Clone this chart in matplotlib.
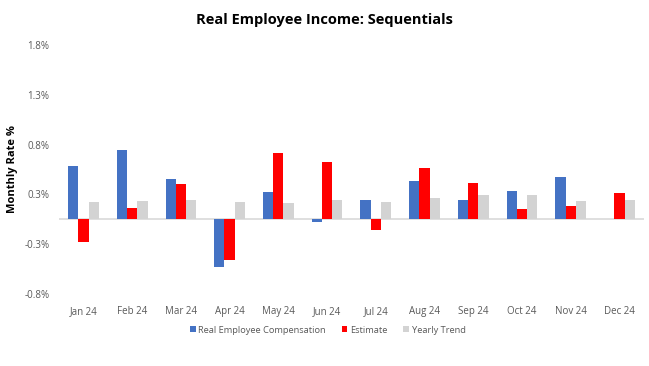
import matplotlib
matplotlib.use("Agg")
import matplotlib.pyplot as plt
import numpy as np

months = ["Jan 24", "Feb 24", "Mar 24", "Apr 24", "May 24", "Jun 24",
          "Jul 24", "Aug 24", "Sep 24", "Oct 24", "Nov 24", "Dec 24"]
real_comp = [0.535, 0.695, 0.405, -0.48, 0.275, -0.03,
             0.195, 0.385, 0.195, 0.285, 0.425, np.nan]
estimate = [-0.23, 0.115, 0.355, -0.41, 0.665, 0.575,
            -0.11, 0.515, 0.365, 0.105, 0.135, 0.265]
yearly = [0.175, 0.185, 0.195, 0.175, 0.165, 0.195,
          0.175, 0.215, 0.245, 0.245, 0.185, 0.195]
yticks = [-0.75, -0.25, 0.25, 0.75, 1.25, 1.75]
ytick_labels = ["-0.8%", "-0.3%", "0.3%", "0.8%", "1.3%", "1.8%"]

plt.rcParams['font.family'] = ['Open Sans', 'DejaVu Sans']

fig = plt.figure(figsize=(6.49, 3.66), dpi=100)
ax = fig.add_axes([0.091, 0.197, 0.901, 0.68])

x = np.arange(len(months))
w = 0.21
ax.bar(x - w, real_comp, w, color="#4472C4", label="Real Employee Compensation")
ax.bar(x, estimate, w, color="#FF0000", label="Estimate")
ax.bar(x + w, yearly, w, color="#D3D3D3", label="Yearly Trend")

ax.axhline(0, color="#D9D9D9", lw=1.2, zorder=0)
ax.set_xlim(-0.5, len(months) - 0.5)
ax.set_ylim(-0.75, 1.75)
ax.set_yticks(yticks)
ax.set_yticklabels(ytick_labels)
ax.set_xticks(x)
ax.set_xticklabels(months)
ax.tick_params(axis="both", length=0, labelsize=7, colors="#595959")
ax.tick_params(axis="x", pad=9)
ax.tick_params(axis="y", pad=7)
for s in ax.spines.values():
    s.set_visible(False)

fig.text(13 / 649, 0.537, "Monthly Rate %", rotation=90, ha="center", va="center",
         fontsize=8, fontweight="bold", color="black")
fig.text(0.5, 0.945, "Real Employee Income: Sequentials", ha="center", va="center",
         fontsize=10.5, fontweight="bold")

leg = fig.legend(loc="center", bbox_to_anchor=(0.505, 0.098), ncol=3, frameon=False,
                 fontsize=6.7, handlelength=0.6, handleheight=0.6, columnspacing=1.7,
                 handletextpad=0.3)
for t in leg.get_texts():
    t.set_color("#595959")

fig.savefig("out.png", dpi=100)
